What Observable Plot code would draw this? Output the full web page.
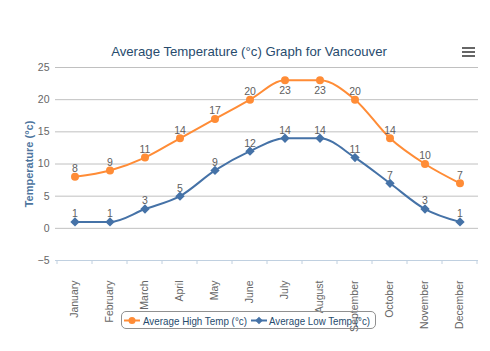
<!DOCTYPE html>
<html>
<head>
<meta charset="utf-8">
<script src="https://cdn.jsdelivr.net/npm/d3@7"></script>
<script src="https://cdn.jsdelivr.net/npm/@observablehq/plot@0.6"></script>
<style>
  html, body { margin: 0; padding: 0; background: #fff; }
  #wrap { position: relative; width: 490px; height: 351px; font-family: "Liberation Sans", Arial, sans-serif; }
  #title { position: absolute; left: 0; width: 498px; top: 44px; text-align: center; font-size: 13.2px; color: #274b6d; }
  #menu { position: absolute; left: 462px; top: 47px; width: 13px; }
  #menu div { height: 2.4px; background: #666; margin-bottom: 1.6px; }
  #legend { position: absolute; left: 121px; top: 311px; width: 255px; height: 18px; border: 1px solid #909090; border-radius: 5px; box-sizing: border-box; }
  #legend svg { position: absolute; top: -1px; left: -1px; }
  #chart { position: absolute; left: 0; top: 0; }
</style>
</head>
<body>
<div id="wrap">
  <div id="chart"></div>
  <div id="title">Average Temperature (°c) Graph for Vancouver</div>
  <div id="menu"><div></div><div></div><div></div></div>
  <div id="legend"></div>
</div>
<script>
const months = ["January","February","March","April","May","June","July","August","September","October","November","December"];
const highTemps = [8, 9, 11, 14, 17, 20, 23, 23, 20, 14, 10, 7];
const lowTemps = [1, 1, 3, 5, 9, 12, 14, 14, 11, 7, 3, 1];
const seriesNames = ["Average High Temp (°c)", "Average Low Temp (°c)"];
const seriesColors = ["#FF8C36", "#4572A7"];
const yTicks = [-5, 0, 5, 10, 15, 20, 25];

const high = months.map((m, i) => ({month: m, value: highTemps[i], series: seriesNames[0]}));
const low = months.map((m, i) => ({month: m, value: lowTemps[i], series: seriesNames[1]}));
const yMax = d3.max(highTemps);
const FONT = "Liberation Sans, Arial, sans-serif";

const chart = Plot.plot({
  width: 490,
  height: 351,
  marginTop: 67,
  marginBottom: 91,
  marginLeft: 55,
  marginRight: 12,
  style: {fontFamily: FONT, fontSize: "11px", color: "#666", background: "transparent"},
  x: {type: "band", domain: months, padding: 0, label: null, axis: null},
  y: {domain: [-5, 25], ticks: yTicks, label: null, axis: null},
  marks: [
    Plot.gridY(yTicks, {stroke: "#C0C0C0", strokeOpacity: 1, strokeWidth: 1}),
    Plot.ruleY([-5], {stroke: "#C0D0E0", strokeWidth: 1}),
    Plot.axisY(yTicks, {tickSize: 0, tickPadding: 6, label: null, fill: "#666", fontSize: 10.5, tickFormat: d => d < 0 ? "\u22125" : String(d)}),
    Plot.text(["Temperature (°c)"], {frameAnchor: "left", textAnchor: "middle", dx: -26, rotate: -90, fill: "#4d759e", fontWeight: "bold", fontSize: 11}),
    Plot.axisX({tickSize: 0, tickRotate: -90, tickPadding: 20, label: null, fill: "#666", fontSize: 10.5}),
    Plot.line(high, {x: "month", y: "value", stroke: seriesColors[0], strokeWidth: 2, curve: "monotone-x"}),
    Plot.line(low, {x: "month", y: "value", stroke: seriesColors[1], strokeWidth: 2, curve: "monotone-x"}),
    Plot.dot(high, {x: "month", y: "value", r: 4, fill: seriesColors[0], stroke: "none"}),
    Plot.dot(low, {x: "month", y: "value", r: 4.2, symbol: "diamond2", fill: seriesColors[1], stroke: "none"}),
    Plot.text(high.filter(d => d.value < yMax), {x: "month", y: "value", text: "value", dy: -8, fill: "#606060", fontSize: 10.5}),
    Plot.text(high.filter(d => d.value === yMax), {x: "month", y: "value", text: "value", dy: 10, fill: "#606060", fontSize: 10.5}),
    Plot.text(low, {x: "month", y: "value", text: "value", dy: -8, fill: "#606060", fontSize: 10.5})
  ]
});

// tick marks between categories along the x axis line
const svg = d3.select(chart);
const xs = chart.scale("x");
const ys = chart.scale("y");
const bounds = months.map(m => xs.apply(m)).concat([xs.apply(months[months.length - 1]) + xs.bandwidth]);
svg.append("g").selectAll("line").data(bounds).join("line")
  .attr("x1", d => d).attr("x2", d => d)
  .attr("y1", ys.apply(-5)).attr("y2", ys.apply(-5) + 4)
  .attr("stroke", "#C0D0E0");

document.getElementById("chart").appendChild(chart);

// legend
const leg = d3.select("#legend").append("svg").attr("width", 256).attr("height", 19);
const items = [
  {cx: 11, tx: 22, tw: 104, name: seriesNames[0], color: seriesColors[0], sym: "circle"},
  {cx: 138, tx: 148, tw: 101, name: seriesNames[1], color: seriesColors[1], sym: "diamond"}
];
items.forEach(it => {
  const g = leg.append("g");
  g.append("line").attr("x1", it.cx - 8).attr("x2", it.cx + 8).attr("y1", 9.5).attr("y2", 9.5).attr("stroke", it.color).attr("stroke-width", 2);
  if (it.sym === "circle") g.append("circle").attr("cx", it.cx).attr("cy", 9.5).attr("r", 3.5).attr("fill", it.color);
  else g.append("path").attr("d", d3.symbol(d3.symbolDiamond2, 36)()).attr("transform", `translate(${it.cx},9.5)`).attr("fill", it.color);
  g.append("text").attr("x", it.tx).attr("y", 13.5).attr("fill", "#274b6d").attr("font-size", 11.5)
    .attr("font-family", FONT).attr("textLength", it.tw).attr("lengthAdjust", "spacingAndGlyphs").text(it.name);
});
</script>
</body>
</html>
